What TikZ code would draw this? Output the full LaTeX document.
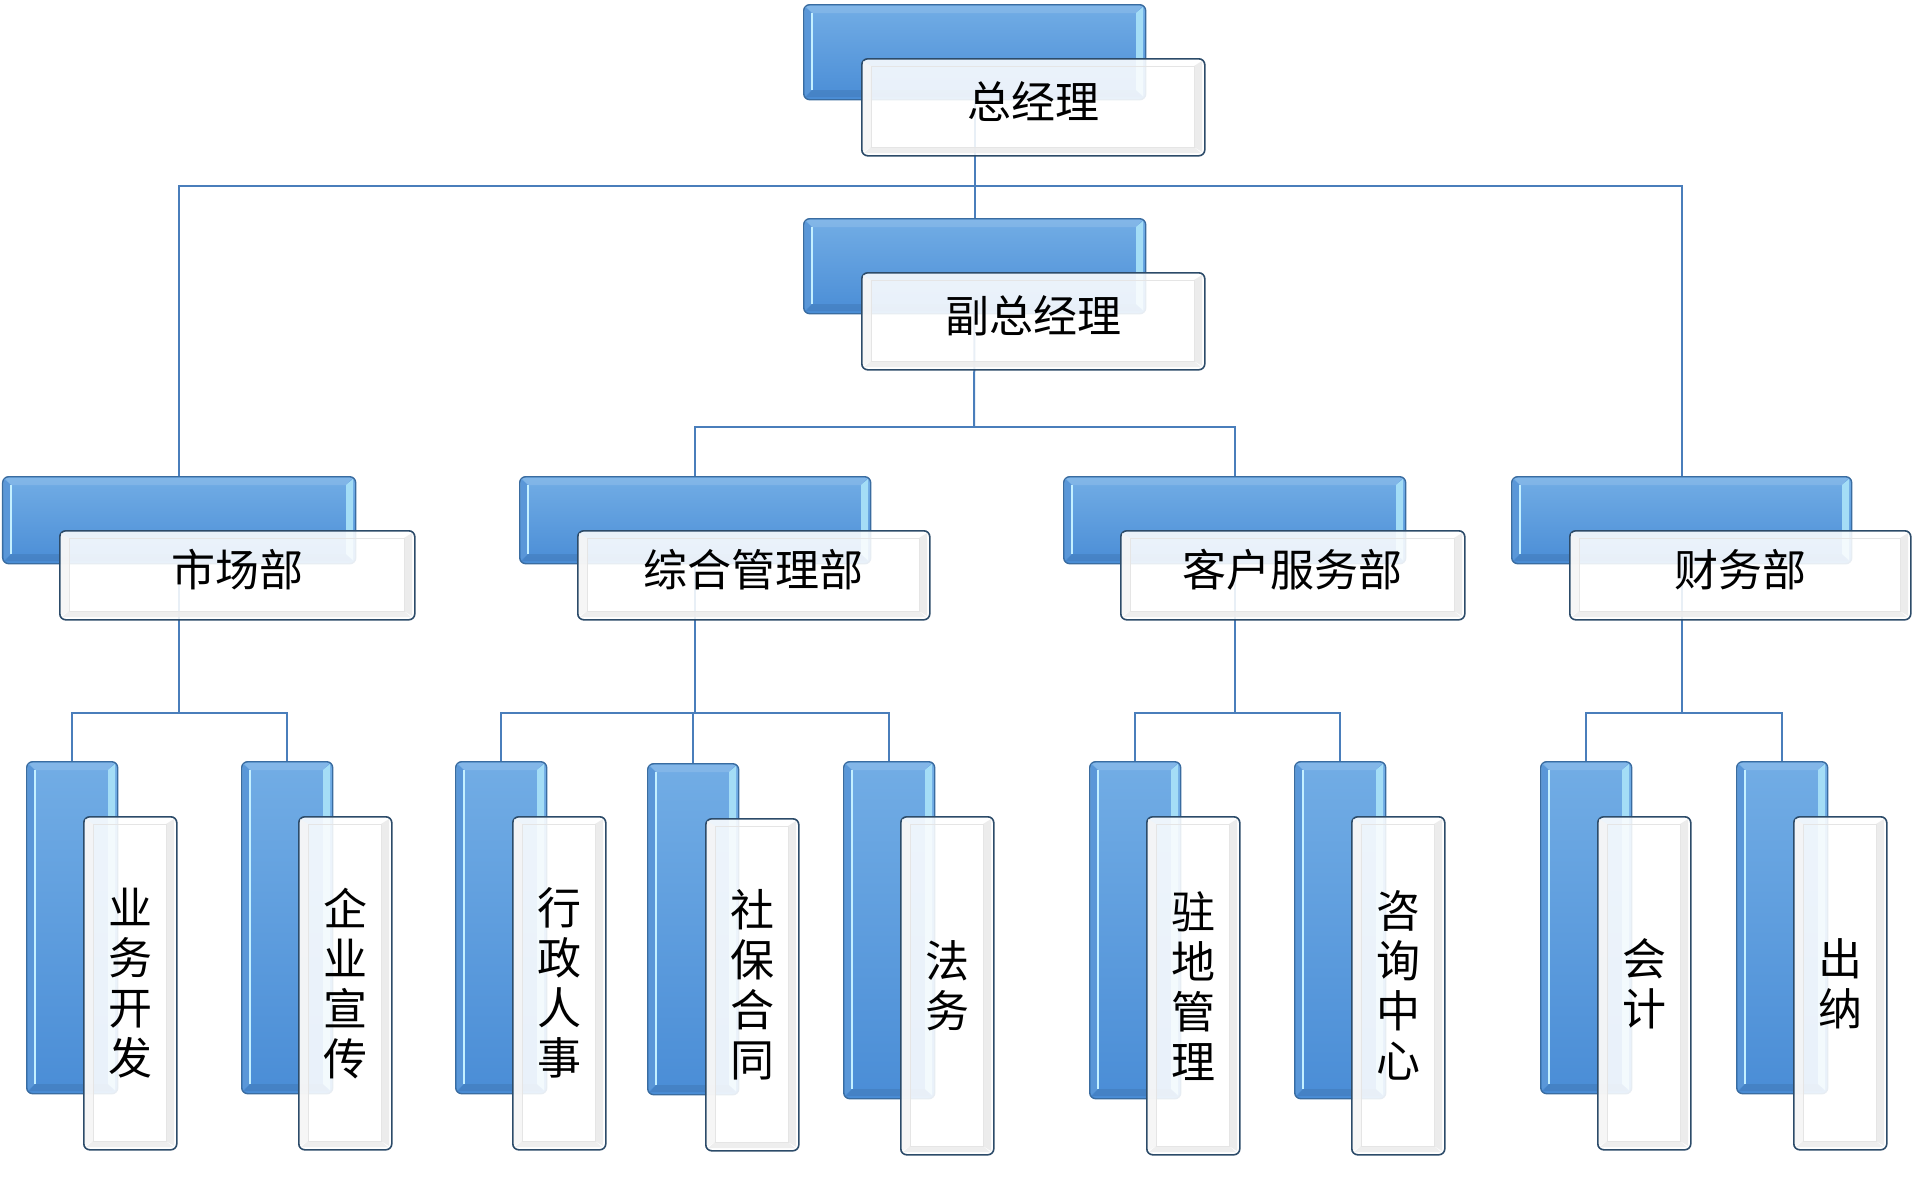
\documentclass[tikz,border=0pt]{standalone}
\usepackage{fontspec}
\newfontfamily\cjk{Noto Sans CJK SC}
\pgfdeclarelayer{bg}
\pgfsetlayers{bg,main}
\definecolor{linec}{HTML}{4A7EBB}
\definecolor{btop}{HTML}{72ADE5}
\definecolor{bbot}{HTML}{4A8DD6}
\definecolor{bedge}{HTML}{3A6CA0}
\definecolor{bleft}{HTML}{5A97D8}
\definecolor{bhl}{HTML}{C4F0FF}
\definecolor{bright}{HTML}{A4DDF6}
\definecolor{wedge}{HTML}{2C4B69}
\tikzset{
  conn/.style={draw=linec, line width=1pt},
  bluebox/.style={anchor=north west, inner sep=0pt, rounded corners=3pt, draw=bedge, line width=0.7pt, top color=btop, bottom color=bbot},
  whitebox/.style={anchor=north west, inner sep=0pt, rounded corners=3pt, draw=wedge, line width=0.8pt, fill=white, fill opacity=0.88, text opacity=1, font=\cjk\fontsize{22}{25}\selectfont, align=center},
  hortext/.style={text depth=7pt},
}
% name x y w h
\newcommand\bbx[5]{%
  \node[bluebox, minimum width=#4*0.5pt, minimum height=#5*0.5pt] (#1) at (#2,#3) {};
  \fill[bleft] (#2+2,#3+3) -- (#2+9,#3+9) -- (#2+9,#3+#5-9) -- (#2+2,#3+#5-3) -- cycle;
  \draw[bhl, line width=1pt] (#2+9,#3+9) -- (#2+9,#3+#5-9);
  \fill[bright] (#2+#4-2,#3+3) -- (#2+#4-9,#3+9) -- (#2+#4-9,#3+#5-9) -- (#2+#4-2,#3+#5-3) -- cycle;
  \fill[white, opacity=0.12] (#2+3,#3+2) -- (#2+#4-3,#3+2) -- (#2+#4-9,#3+9) -- (#2+9,#3+9) -- cycle;
  \fill[black, opacity=0.08] (#2+3,#3+#5-2) -- (#2+#4-3,#3+#5-2) -- (#2+#4-9,#3+#5-9) -- (#2+9,#3+#5-9) -- cycle;
}
% [opts] name x y w h text
\newcommand\wbx[7][]{%
  \node[whitebox, minimum width=#5*0.5pt, minimum height=#6*0.5pt, #1] (#2) at (#3,#4) {#7};
  \fill[black!4, opacity=0.8] (#3+2,#4+3) -- (#3+10,#4+8) -- (#3+10,#4+#6-8) -- (#3+2,#4+#6-3) -- cycle;
  \fill[black!9, opacity=0.8] (#3+#5-2,#4+3) -- (#3+#5-10,#4+8) -- (#3+#5-10,#4+#6-8) -- (#3+#5-2,#4+#6-3) -- cycle;
  \fill[black!8, opacity=0.8] (#3+3,#4+#6-2) -- (#3+#5-3,#4+#6-2) -- (#3+#5-10,#4+#6-8) -- (#3+10,#4+#6-8) -- cycle;
  \draw[black!10, line width=0.4pt] (#3+10,#4+8) rectangle (#3+#5-10,#4+#6-8);
}
\begin{document}
\begin{tikzpicture}[x=0.5pt,y=-0.5pt]
\useasboundingbox (0,0) rectangle (1924,1189);
% level 0/1
\bbx{b0}{803}{4}{342}{95}
\wbx[hortext]{w0}{861}{58}{343}{97}{总经理}
\bbx{b1}{803}{218}{342}{95}
\wbx[hortext]{w1}{861}{272}{343}{97}{副总经理}
% departments
\bbx{b2}{2}{476}{353}{87}
\wbx[hortext]{w2}{59}{530}{355}{89}{市场部}
\bbx{b3}{519}{476}{351}{87}
\wbx[hortext]{w3}{577}{530}{352}{89}{综合管理部}
\bbx{b4}{1063}{476}{342}{87}
\wbx[hortext]{w4}{1120}{530}{344}{89}{客户服务部}
\bbx{b5}{1511}{476}{340}{87}
\wbx[hortext]{w5}{1569}{530}{341}{89}{财务部}
% leaves
\bbx{l1}{26}{761}{91}{332}
\wbx{m1}{83}{816}{93}{333}{业\\务\\开\\发}
\bbx{l2}{241}{761}{91}{332}
\wbx{m2}{298}{816}{93}{333}{企\\业\\宣\\传}
\bbx{l3}{455}{761}{91}{332}
\wbx{m3}{512}{816}{93}{333}{行\\政\\人\\事}
\bbx{l4}{647}{763}{91}{331}
\wbx{m4}{705}{818}{93}{332}{社\\保\\合\\同}
\bbx{l5}{843}{761}{91}{337}
\wbx{m5}{900}{816}{93}{338}{法\\务}
\bbx{l6}{1089}{761}{91}{337}
\wbx{m6}{1146}{816}{93}{338}{驻\\地\\管\\理}
\bbx{l7}{1294}{761}{91}{337}
\wbx{m7}{1351}{816}{93}{338}{咨\\询\\中\\心}
\bbx{l8}{1540}{761}{91}{332}
\wbx{m8}{1597}{816}{93}{333}{会\\计}
\bbx{l9}{1736}{761}{91}{332}
\wbx{m9}{1793}{816}{93}{333}{出\\纳}
% connectors
\coordinate (bus0) at (974,186);
\coordinate (bus1) at (974,427);
\coordinate (y3) at (0,713);
\begin{pgfonlayer}{bg}
\draw[conn] (b0.center) -- (b1.north);
\draw[conn] (b2.north) |- (bus0) -| (b5.north);
\draw[conn] (b1.center) -- (bus1);
\draw[conn] (b3.north) |- (bus1) -| (b4.north);
\draw[conn] (b2.center) -- (b2.center |- y3);
\draw[conn] (l1.north) |- (b2.center |- y3) -| (l2.north);
\draw[conn] (b3.center) -- (b3.center |- y3);
\draw[conn] (l3.north) |- (b3.center |- y3) -| (l5.north);
\draw[conn] (l4.north) |- (b3.center |- y3);
\draw[conn] (b4.center) -- (b4.center |- y3);
\draw[conn] (l6.north) |- (b4.center |- y3) -| (l7.north);
\draw[conn] (b5.center) -- (b5.center |- y3);
\draw[conn] (l8.north) |- (b5.center |- y3) -| (l9.north);
\end{pgfonlayer}
\end{tikzpicture}
\end{document}
